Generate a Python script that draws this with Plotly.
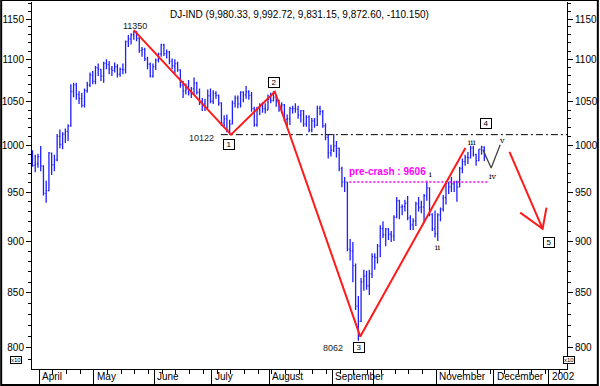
import math
import plotly.graph_objects as go

# ---------------- data (DJ-IND, values in x10 units) ----------------
dates = ["03-28","03-29","03-30",
 "04-02","04-03","04-04","04-05","04-06","04-09","04-10","04-11","04-12","04-16","04-17","04-18","04-19","04-20","04-23","04-24","04-25","04-26","04-27","04-30",
 "05-01","05-02","05-03","05-04","05-07","05-08","05-09","05-10","05-11","05-14","05-15","05-16","05-17","05-18","05-21","05-22","05-23","05-24","05-25","05-29","05-30","05-31",
 "06-01","06-04","06-05","06-06","06-07","06-08","06-11","06-12","06-13","06-14","06-15","06-18","06-19","06-20","06-21","06-22","06-25","06-26","06-27","06-28","06-29",
 "07-02","07-03","07-05","07-06","07-09","07-10","07-11","07-12","07-13","07-16","07-17","07-18","07-19","07-20","07-23","07-24","07-25","07-26","07-27","07-30","07-31",
 "08-01","08-02","08-03","08-06","08-07","08-08","08-09","08-10","08-13","08-14","08-15","08-16","08-17","08-20","08-21","08-22","08-23","08-24","08-27","08-28","08-29","08-30","08-31",
 "09-04","09-05","09-06","09-07","09-10","09-17","09-18","09-19","09-20","09-21","09-24","09-25","09-26","09-27","09-28",
 "10-01","10-02","10-03","10-04","10-05","10-08","10-09","10-10","10-11","10-12","10-15","10-16","10-17","10-18","10-19","10-22","10-23","10-24","10-25","10-26","10-29","10-30","10-31",
 "11-01","11-02","11-05","11-06","11-07","11-08","11-09","11-12","11-13","11-14","11-15","11-16","11-19","11-20","11-21","11-23","11-26","11-27"]

open_ = [994.0,978.5,980.0,
 988.0,977.8,948.6,951.5,991.8,979.1,984.5,1010.3,1001.3,1012.7,1015.9,1021.7,1061.6,1069.4,1058.0,1053.2,1045.4,1062.5,1069.2,1081.0,
 1073.5,1089.8,1087.7,1079.7,1095.1,1093.5,1088.4,1086.7,1091.0,1082.1,1087.7,1087.3,1121.6,1124.9,1130.2,1133.8,1125.7,1110.6,1112.2,1100.5,1094.0,1079.5,
 1091.2,1099.0,1106.2,1117.6,1107.0,1109.1,1097.7,1092.2,1094.8,1087.2,1069.0,1062.4,1064.5,1059.7,1064.7,1071.5,1060.5,1050.4,1047.2,1043.5,1056.6,
 1050.2,1059.4,1057.1,1048.0,1025.3,1029.9,1017.6,1024.1,1048.0,1053.9,1047.2,1060.8,1057.7,1061.0,1057.1,1041.7,1023.3,1040.6,1045.6,1041.7,1040.1,
 1052.3,1051.0,1055.1,1051.3,1040.1,1045.9,1029.3,1029.9,1041.6,1041.6,1041.2,1034.5,1039.3,1024.1,1032.0,1017.4,1027.7,1022.9,1042.3,1038.2,1022.2,1009.1,992.0,
 995.0,999.7,997.0,975.2,960.6,960.6,892.1,890.3,875.9,837.6,823.6,860.4,866.0,856.7,868.1,
 884.8,883.7,895.1,912.4,906.1,912.0,906.8,905.2,924.1,941.0,934.4,934.8,938.4,923.3,916.3,920.4,937.7,934.0,934.6,946.3,954.5,927.0,912.2,
 907.5,926.4,932.4,944.1,959.1,955.4,958.8,960.8,955.4,975.1,982.4,987.2,986.7,997.6,990.1,983.5,996.0,998.0]

high = [995.0,990.0,991.0,
 999.5,978.5,962.0,993.0,992.5,990.0,1013.0,1018.0,1015.0,1019.0,1024.0,1070.0,1072.0,1072.0,1062.0,1060.0,1065.0,1073.0,1084.0,1086.0,
 1092.0,1095.0,1088.0,1097.0,1100.0,1098.0,1092.0,1096.0,1094.0,1090.0,1095.0,1123.0,1130.0,1132.0,1135.0,1135.0,1127.0,1115.0,1114.0,1103.0,1096.0,1095.0,
 1101.0,1108.0,1119.0,1119.0,1112.0,1110.0,1101.0,1100.0,1097.0,1088.0,1074.0,1071.0,1075.0,1067.0,1078.0,1073.0,1065.0,1054.0,1053.0,1064.0,1065.0,
 1063.0,1062.0,1058.0,1049.0,1034.0,1035.0,1029.0,1051.0,1057.0,1057.0,1062.0,1062.0,1068.0,1063.0,1061.0,1044.0,1044.0,1048.0,1049.0,1048.0,1058.0,
 1060.0,1062.0,1056.0,1052.0,1049.0,1047.0,1035.0,1044.0,1045.0,1048.0,1045.0,1040.0,1040.0,1034.0,1034.0,1031.0,1031.0,1045.0,1045.0,1040.0,1025.0,1012.0,1001.0,
 1013.0,1005.0,998.0,977.0,966.0,961.0,902.0,899.0,878.0,847.0,864.0,872.0,871.0,872.0,888.0,
 888.0,897.0,916.0,920.0,913.0,913.0,910.0,926.0,945.0,942.0,937.0,942.0,946.0,926.0,923.0,940.0,945.0,941.0,948.0,962.0,955.0,928.0,931.0,
 928.0,934.0,947.0,961.0,961.0,966.0,962.0,962.0,977.0,986.0,990.0,993.0,1000.0,1000.0,991.0,996.0,1000.0,999.3]

low = [977.0,971.0,976.0,
 972.0,946.5,939.0,951.0,968.0,972.0,983.0,997.0,996.0,1003.0,1005.0,1021.0,1055.0,1052.0,1047.0,1043.0,1043.0,1060.0,1067.0,1070.0,
 1070.0,1080.0,1074.0,1072.0,1088.0,1082.0,1080.0,1084.0,1078.0,1079.0,1082.0,1083.0,1115.0,1118.0,1124.0,1122.0,1108.0,1103.0,1098.0,1088.0,1078.0,1078.0,
 1087.0,1096.0,1103.0,1104.0,1101.0,1094.0,1088.0,1083.0,1085.0,1066.0,1054.0,1058.0,1057.0,1054.0,1058.0,1058.0,1046.0,1039.0,1039.0,1042.0,1048.0,
 1047.0,1053.0,1045.0,1022.0,1020.0,1015.0,1012.2,1024.0,1043.0,1042.0,1043.0,1049.0,1053.0,1052.0,1038.0,1021.0,1021.0,1034.0,1037.0,1036.0,1040.0,
 1048.0,1050.0,1044.0,1038.0,1036.0,1027.0,1022.0,1023.0,1036.0,1037.0,1030.0,1026.0,1021.0,1021.0,1015.0,1015.0,1020.0,1022.0,1034.0,1020.0,1006.0,986.0,988.0,
 993.0,987.0,972.0,955.0,950.0,890.0,881.0,860.0,834.0,806.2,823.0,852.0,853.0,848.0,864.0,
 872.0,878.0,884.0,903.0,895.0,901.0,899.0,900.0,923.0,922.0,926.0,930.0,921.0,911.0,911.0,915.0,930.0,928.0,918.0,941.0,925.0,910.0,903.5,
 900.0,920.0,930.0,937.0,948.0,950.0,950.0,940.0,955.0,970.0,978.0,980.0,986.0,988.0,978.0,983.0,990.0,983.1]

close = [978.5,979.9,987.9,
 977.8,948.6,951.5,991.8,979.1,984.5,1010.3,1001.3,1012.7,1015.9,1021.7,1061.6,1069.4,1058.0,1053.2,1045.4,1062.5,1069.2,1081.0,1073.5,
 1089.8,1087.7,1079.7,1095.1,1093.5,1088.4,1086.7,1091.0,1082.1,1087.7,1087.3,1121.6,1124.9,1130.2,1133.8,1125.7,1110.6,1112.2,1100.5,1094.0,1079.5,1091.2,
 1099.0,1106.2,1117.6,1107.0,1109.1,1097.7,1092.2,1094.8,1087.2,1069.0,1062.4,1064.5,1059.7,1064.7,1071.5,1060.5,1050.4,1047.2,1043.5,1056.6,1050.2,
 1059.4,1057.1,1048.0,1025.3,1029.9,1017.6,1024.1,1048.0,1053.9,1047.2,1060.8,1057.7,1061.0,1057.1,1041.7,1023.3,1040.6,1045.6,1041.7,1040.1,1052.3,
 1051.0,1055.1,1051.3,1040.1,1045.9,1029.3,1029.9,1041.6,1041.6,1041.2,1034.5,1039.3,1024.1,1032.0,1017.4,1027.7,1022.9,1042.3,1038.2,1022.2,1009.1,992.0,995.0,
 999.7,997.0,975.2,960.6,960.6,892.1,890.3,875.9,837.6,823.6,860.4,866.0,856.7,868.1,884.8,
 883.7,895.1,912.4,906.1,912.0,906.8,905.2,924.1,941.0,934.4,934.8,938.4,923.3,916.3,920.4,937.7,934.0,934.6,946.3,954.5,927.0,912.2,907.5,
 926.4,932.4,944.1,959.1,955.4,958.8,960.8,955.4,975.1,982.4,987.2,986.7,997.6,990.1,983.5,996.0,998.3,987.3]

# trading-day index of each bar (first bar = 28 March)
day_index = list(range(-3, len(dates) - 3))

# month boundaries (trading-day index of first session) and labels
month_start = [0, 20, 42, 63, 84, 107, 122, 145, 166, 186]
month_labels = ["April", "May", "June", "July", "August", "September", "", "November", "December", "2002"]

y_ticks = [800, 850, 900, 950, 1000, 1050, 1100, 1150]

# Elliott-wave overlay (trading-day index, value)
zig_x = [34.0, 69.5, 85.5, 116.7, 155.1]
zig_y = [1136.0, 1012.2, 1061.3, 810.0, 997.5]
sub_x = [161.5, 164.5, 167.8]
sub_y = [995.6, 975.7, 1001.1]
arrow_x = [171.2, 183.3]
arrow_y = [993.1, 912.3]
head_x = [175.1, 183.3, 184.7]
head_y = [928.7, 912.3, 933.9]
support_level = 1012.2
support_x = [65.8, 193.0]
precrash_level = 960.6
precrash_x = [112.7, 163.9]

box_labels = ["1", "2", "3", "4", "5"]
box_x = [68.9, 85.1, 116.1, 162.6, 185.7]
box_y = [1001.1, 1071.8, 800.1, 1024.5, 898.7]

note_text = ["11350", "10122", "8062"]
note_x = [34.6, 58.8, 106.9]
note_y = [1141.3, 1008.9, 800.0]

wave_text = ["i", "ii", "iii", "iv", "v"]
wave_x = [142.5, 145.0, 157.5, 165.1, 168.6]
wave_y = [968.6, 893.9, 1003.6, 966.7, 1005.5]

title_text = "DJ-IND (9,980.33, 9,992.72, 9,831.15, 9,872.60, -110.150)"

# ---------------- figure ----------------
FONT = "Arial, Liberation Sans, sans-serif"
W, H = 600, 386
ML, MR, MT, MB = 31, 31, 2, 16
PW, PH = W - ML - MR, H - MT - MB
X_RANGE = [-3.18, 192.2]
Y_RANGE = [math.log10(781.5), math.log10(1171.8)]

fig = go.Figure()
fig.add_trace(go.Ohlc(x=day_index, open=open_, high=high, low=low, close=close,
                      increasing=dict(line=dict(color="#2020ff", width=1.3)),
                      decreasing=dict(line=dict(color="#2020ff", width=1.3)),
                      tickwidth=0.35, hoverinfo="skip", showlegend=False))

def line(x, y, color, width, dash="solid"):
    fig.add_trace(go.Scatter(x=x, y=y, mode="lines", line=dict(color=color, width=width, dash=dash),
                             hoverinfo="skip", showlegend=False))

line(support_x, [support_level] * 2, "black", 1, "7px,3px,2px,3px")
line(precrash_x, [precrash_level] * 2, "#ff00ff", 1.6, "2px,2px")
line(zig_x, zig_y, "#ff1a1a", 2)
line(sub_x, sub_y, "#444444", 1.3)
line(arrow_x, arrow_y, "#ff1a1a", 2)
line(head_x, head_y, "#ff1a1a", 2)

# dummy trace for right axis
fig.add_trace(go.Scatter(x=[0], y=[1000], yaxis="y2", mode="markers", marker=dict(opacity=0),
                         hoverinfo="skip", showlegend=False))

ann = []
for t, x, y in zip(box_labels, box_x, box_y):
    ann.append(dict(x=x, y=math.log10(y), text=t, showarrow=False, font=dict(size=8, color="black", family=FONT),
                    bordercolor="black", borderwidth=1, borderpad=0, bgcolor="white", width=10, height=9))
for t, x, y in zip(note_text, note_x, note_y):
    ann.append(dict(x=x, y=math.log10(y), text=t, showarrow=False, font=dict(size=9, color="#222", family=FONT)))
for t, x, y in zip(wave_text, wave_x, wave_y):
    ann.append(dict(x=x, y=math.log10(y), text=t, showarrow=False,
                    font=dict(size=8, color="black", family="DejaVu Serif, serif")))
ann.append(dict(x=126.8, y=math.log10(971.8), text="<b>pre-crash : 9606</b>", showarrow=False,
                font=dict(size=10, color="#ff00ff", family=FONT)))
ann.append(dict(xref="paper", yref="paper", x=(300 - ML) / PW, y=(H - MB - 7) / PH, text=title_text,
                showarrow=False, font=dict(size=10, color="black", family=FONT)))
for m, lab in zip(month_start, month_labels):
    if lab:
        ann.append(dict(x=m - 0.1, xanchor="left", yref="paper", y=-8 / PH, yanchor="middle", text=lab,
                        showarrow=False, font=dict(size=10, color="black", family=FONT)))
for px in (8.5, 577):
    ann.append(dict(xref="paper", yref="paper", x=(px - ML) / PW, y=5.5 / PH, text="x10", showarrow=False,
                    font=dict(size=6, color="black", family=FONT), bordercolor="black", borderwidth=1,
                    borderpad=0, bgcolor="white"))

yax = dict(type="log", range=Y_RANGE, tickvals=y_ticks, ticktext=[str(v) for v in y_ticks],
           ticks="outside", ticklen=5, tickcolor="black", showline=True, linecolor="black", linewidth=1,
           showgrid=False, zeroline=False, tickfont=dict(size=10, color="black", family=FONT),
           minor=dict(tickvals=list(range(790, 1171, 10)), ticks="outside", ticklen=3, tickcolor="black"))

fig.update_layout(
    width=W, height=H, margin=dict(l=ML, r=MR, t=MT, b=MB),
    paper_bgcolor="white", plot_bgcolor="white", showlegend=False, hovermode=False,
    xaxis=dict(range=X_RANGE, tickvals=[m - 0.6 for m in month_start], showticklabels=False,
               ticks="outside", ticklen=15, tickcolor="black", showline=True, linecolor="black",
               showgrid=False, zeroline=False, rangeslider=dict(visible=False),
               minor=dict(ticks="outside", ticklen=4, dtick=5, tick0=-0.6, tickcolor="black")),
    yaxis=yax,
    yaxis2=dict(yax, overlaying="y", side="right", anchor="x"),
    annotations=ann,
    shapes=[dict(type="rect", xref="paper", yref="paper", x0=-ML / PW, x1=1 + MR / PW,
                 y0=-MB / PH, y1=1 + MT / PH, line=dict(color="black", width=2))],
)

fig.write_html("out.html", config=dict(displayModeBar=False))
